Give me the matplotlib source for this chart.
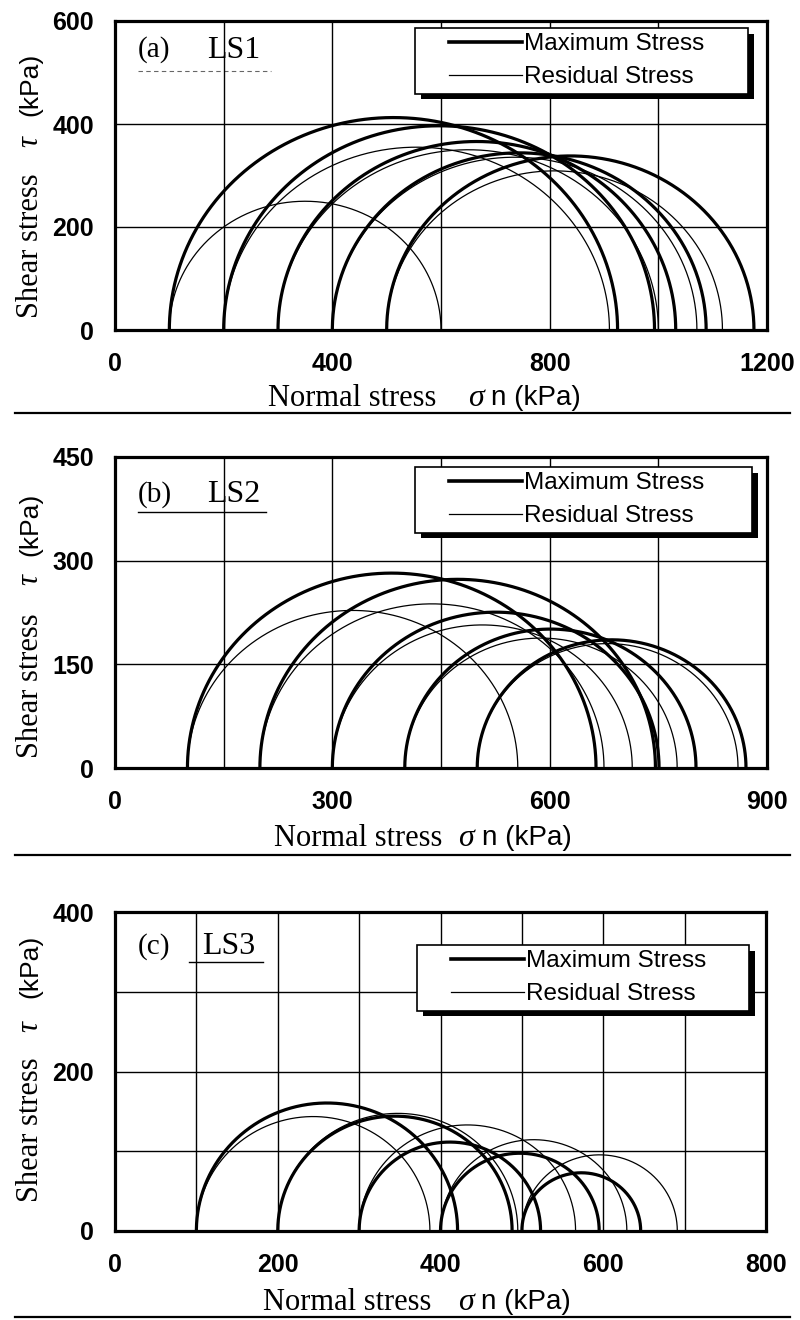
import numpy as np
import matplotlib
matplotlib.use("Agg")
import matplotlib.pyplot as plt
from matplotlib.lines import Line2D
from matplotlib.legend_handler import HandlerLine2D
import matplotlib.patheffects as pe

# ---------------- data (kPa) ----------------
# Mohr circles: minor principal stress (sigma3) and major principal stress (sigma1)
A_MAX_S3 = [100, 200, 300, 400, 500]
A_MAX_S1 = [925, 993, 1032, 1088, 1176]
A_RES_S3 = [100, 200, 300, 400, 500]
A_RES_S1 = [600, 910, 1000, 1071, 1118]

B_MAX_S3 = [100, 200, 300, 400, 500]
B_MAX_S1 = [664, 746, 751, 802, 871]
B_RES_S3 = [100, 200, 300, 400, 500]
B_RES_S1 = [556, 675, 714, 776, 860]

C_MAX_S3 = [100, 200, 300, 400, 500]
C_MAX_S1 = [421, 488, 523, 595, 646]
C_RES_S3 = [100, 200, 300, 400, 500]
C_RES_S1 = [387, 495, 566, 629, 691]

A_XTICKS = [0, 400, 800, 1200]
A_XGRID = [200, 400, 600, 800, 1000]
A_YTICKS = [0, 200, 400, 600]
A_YGRID = [200, 400]

B_XTICKS = [0, 300, 600, 900]
B_XGRID = [150, 300, 450, 600, 750]
B_YTICKS = [0, 150, 300, 450]
B_YGRID = [150, 300]

C_XTICKS = [0, 200, 400, 600, 800]
C_XGRID = [100, 200, 300, 400, 500, 600, 700]
C_YTICKS = [0, 200, 400]
C_YGRID = [100, 200, 300]

TITLES = [("(a)", "LS1"), ("(b)", "LS2"), ("(c)", "LS3")]
LEGEND_LABELS = ["Maximum Stress", "Residual Stress"]

# ---------------- layout helpers ----------------
W, H = 800, 1320
fig = plt.figure(figsize=(W / 100, H / 100), dpi=100)


def fxp(x):
    return x / W


def fyp(y):
    return 1 - y / H


SERIF = ["Liberation Serif", "DejaVu Serif"]
SANS = ["Liberation Sans", "DejaVu Sans"]

panels = [
    dict(box=(115, 21, 767, 330), xlim=1200, ylim=600,
         mx=(A_MAX_S3, A_MAX_S1), rs=(A_RES_S3, A_RES_S1),
         xt=A_XTICKS, xg=A_XGRID, yt=A_YTICKS, yg=A_YGRID,
         leg=(415, 28, 748, 105),
         xl=(268, 468, 491, 398), yl=(30, 318, 142, 53),
         ttl=(138, 207, 50), ul=(138, 271, 71, "dash"), sep=413),
    dict(box=(115, 457, 767, 768), xlim=900, ylim=450,
         mx=(B_MAX_S3, B_MAX_S1), rs=(B_RES_S3, B_RES_S1),
         xt=B_XTICKS, xg=B_XGRID, yt=B_YTICKS, yg=B_YGRID,
         leg=(415, 467, 752, 546),
         xl=(274, 458, 482, 838), yl=(30, 758, 580, 493),
         ttl=(138, 207, 495), ul=(138, 266, 512, "solid"), sep=855),
    dict(box=(115, 912, 766, 1231), xlim=800, ylim=400,
         mx=(C_MAX_S3, C_MAX_S1), rs=(C_RES_S3, C_RES_S1),
         xt=C_XTICKS, xg=C_XGRID, yt=C_YTICKS, yg=C_YGRID,
         leg=(417, 945, 749, 1024),
         xl=(263, 458, 481, 1302), yl=(30, 1202, 1027, 935),
         ttl=(138, 202, 947), ul=(189, 263, 962, "solid"), sep=1317),
]

theta = np.linspace(0, np.pi, 500)

for i, p in enumerate(panels):
    x0, y0, x1, y1 = p["box"]
    ax = fig.add_axes([fxp(x0), fyp(y1), fxp(x1) - fxp(x0), (y1 - y0) / H])
    ax.set_xlim(0, p["xlim"])
    ax.set_ylim(0, p["ylim"])

    # grid
    for g in p["xg"]:
        ax.axvline(g, color="black", lw=1.0, zorder=1)
    for g in p["yg"]:
        ax.axhline(g, color="black", lw=1.0, zorder=1)

    # residual circles (thin)
    for s3, s1 in zip(*p["rs"]):
        c, r = (s3 + s1) / 2, (s1 - s3) / 2
        ax.plot(c + r * np.cos(theta), r * np.sin(theta), color="black",
                lw=0.9, zorder=3)
    # maximum circles (thick)
    for s3, s1 in zip(*p["mx"]):
        c, r = (s3 + s1) / 2, (s1 - s3) / 2
        ax.plot(c + r * np.cos(theta), r * np.sin(theta), color="black",
                lw=2.3, zorder=4)

    ax.set_xticks(p["xt"])
    ax.set_yticks(p["yt"])
    ax.set_xticklabels([str(v) for v in p["xt"]])
    ax.set_yticklabels([str(v) for v in p["yt"]])
    ax.tick_params(length=0, labelsize=18, pad=16)
    ax.tick_params(axis="y", pad=15)
    for lab in ax.get_xticklabels() + ax.get_yticklabels():
        lab.set_fontfamily(SANS)
        lab.set_fontweight("bold")
    for s in ax.spines.values():
        s.set_linewidth(2.3)
        s.set_zorder(6)

    # legend
    lx0, ly0, lx1, ly1 = p["leg"]
    handles = [Line2D([], [], color="black", lw=2.6),
               Line2D([], [], color="black", lw=0.9)]
    fs_pt = 17.5
    fs_px = fs_pt * 100 / 72
    leg = ax.legend(handles, LEGEND_LABELS, loc="upper left",
                    bbox_to_anchor=(fxp(lx0), fyp(ly1), fxp(lx1) - fxp(lx0), (ly1 - ly0) / H),
                    bbox_transform=fig.transFigure, mode="expand",
                    borderaxespad=0, borderpad=0.22, labelspacing=0.45,
                    handlelength=102 / fs_px, handletextpad=0.06,
                    prop=dict(family=SANS, size=fs_pt), fancybox=False,
                    framealpha=1, edgecolor="black",
                    handler_map={h: HandlerLine2D(xpad=29 / fs_px) for h in handles})
    leg.get_frame().set_linewidth(1.2)
    leg.get_frame().set_path_effects([
        pe.SimplePatchShadow(offset=(4, -4), shadow_rgbFace="black", alpha=1.0),
        pe.Normal()])
    leg.set_zorder(10)

    # panel title
    tx0, tx1, ty = p["ttl"]
    fig.text(fxp(tx0), fyp(ty), TITLES[i][0], family=SERIF, fontsize=21,
             ha="left", va="center")
    fig.text(fxp(tx1), fyp(ty), TITLES[i][1], family=SERIF, fontsize=23,
             ha="left", va="center")
    ux0, ux1, uy, ust = p["ul"]
    fig.add_artist(Line2D([fxp(ux0), fxp(ux1)], [fyp(uy), fyp(uy)],
                          transform=fig.transFigure, color="black",
                          lw=1.0 if ust == "solid" else 0.8,
                          ls="-" if ust == "solid" else (0, (4, 3)),
                          alpha=1.0 if ust == "solid" else 0.6))

    # x label
    a, b, c_, yy = p["xl"]
    fig.text(fxp(a), fyp(yy), "Normal stress", family=SERIF, fontsize=22,
             ha="left", va="center")
    fig.text(fxp(b), fyp(yy), "σ", family=SERIF, fontsize=23, style="italic",
             ha="left", va="center")
    fig.text(fxp(c_), fyp(yy), "n (kPa)", family=SANS, fontsize=20,
             ha="left", va="center")

    # y label
    xc, yb, yt_, yk = p["yl"]
    fig.text(fxp(xc), fyp(yb), "Shear stress", family=SERIF, fontsize=22,
             rotation=90, ha="center", va="bottom")
    fig.text(fxp(xc), fyp(yt_), "τ", family=SERIF, fontsize=22, style="italic",
             rotation=90, ha="center", va="center")
    fig.text(fxp(xc), fyp(yk), "(kPa)", family=SANS, fontsize=19,
             rotation=90, ha="center", va="top")

    # separator line
    fig.add_artist(Line2D([fxp(15), fxp(790)], [fyp(p["sep"]), fyp(p["sep"])],
                          transform=fig.transFigure, color="black", lw=1.6))

fig.savefig("out.png", dpi=100, facecolor="white")
